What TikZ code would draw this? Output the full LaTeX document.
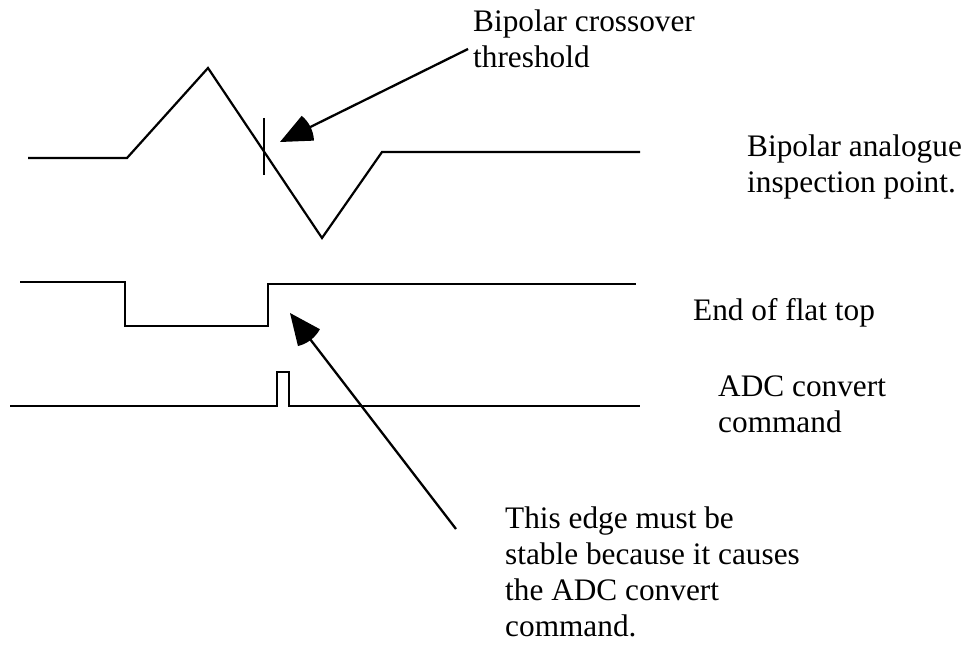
\documentclass[tikz,border=0pt]{standalone}
\usepackage{fontspec}
\setmainfont{Liberation Serif}
\usetikzlibrary{arrows.meta}

% Filled fan-shaped arrow head: a circular sector with its centre at the tip
\pgfdeclarearrow{
  name = Fan,
  setup code = {
    \pgfarrowssettipend{0pt}
    \pgfarrowssetbackend{-34pt}
    \pgfarrowssetvisualbackend{-31pt}
    \pgfarrowssetlineend{-14pt}
    \pgfarrowsupperhullpoint{-34pt}{14pt}
    \pgfarrowsupperhullpoint{0pt}{0pt}
  },
  drawing code = {
    \pgfpathmoveto{\pgfpointorigin}
    \pgfpathlineto{\pgfpointpolar{156}{34pt}}
    \pgfpatharc{156}{204}{34pt}
    \pgfpathclose
    \pgfusepathqfill
  },
  defaults = {}
}

\tikzset{
  wave/.style={line width=2.2pt, line join=miter},
  marker/.style={line width=2pt},
  pointer/.style={line width=2.3pt, -Fan},
  % labels are placed by the baseline of their last line
  lbl/.style={font=\fontsize{31.3}{36}\selectfont, inner sep=0pt, anchor=base west, align=left},
}

\begin{document}
\begin{tikzpicture}[x=1pt, y=-1pt]
  \useasboundingbox (0,0) rectangle (972,652);

  % bipolar analogue waveform
  \draw[wave] (28,158) -- (127,158) -- (208,68) -- (322,238) -- (382,152) -- (640,152);
  % crossover threshold tick
  \draw[marker] (264,118) -- (264,175);

  % end of flat top
  \draw[wave] (20,282) -- (125,282) -- (125,326) -- (268,326) -- (268,284) -- (636,284);

  % ADC convert command pulse
  \draw[wave] (10,406) -- (277,406) -- (277,372) -- (289,372) -- (289,406) -- (640,406);

  % labels
  \node[lbl] (xover) at (473,68) {Bipolar crossover\\threshold};
  \node[lbl] (analogue) at (747,193) {Bipolar analogue\\inspection point.};
  \node[lbl] (flattop) at (693,321) {End of flat top};
  \node[lbl] (adc) at (718,432) {ADC convert\\command};
  \node[lbl] (edge) at (505,636) {This edge must be\\stable because it causes\\the ADC convert\\command.};

  % pointers
  \coordinate (xtail) at (468,49);
  \coordinate (xtip) at (280,142);
  \coordinate (etail) at (456,529);
  \coordinate (etip) at (290,313);
  \draw[pointer] (xtail) -- (xtip);
  \draw[pointer] (etail) -- (etip);
\end{tikzpicture}
\end{document}
